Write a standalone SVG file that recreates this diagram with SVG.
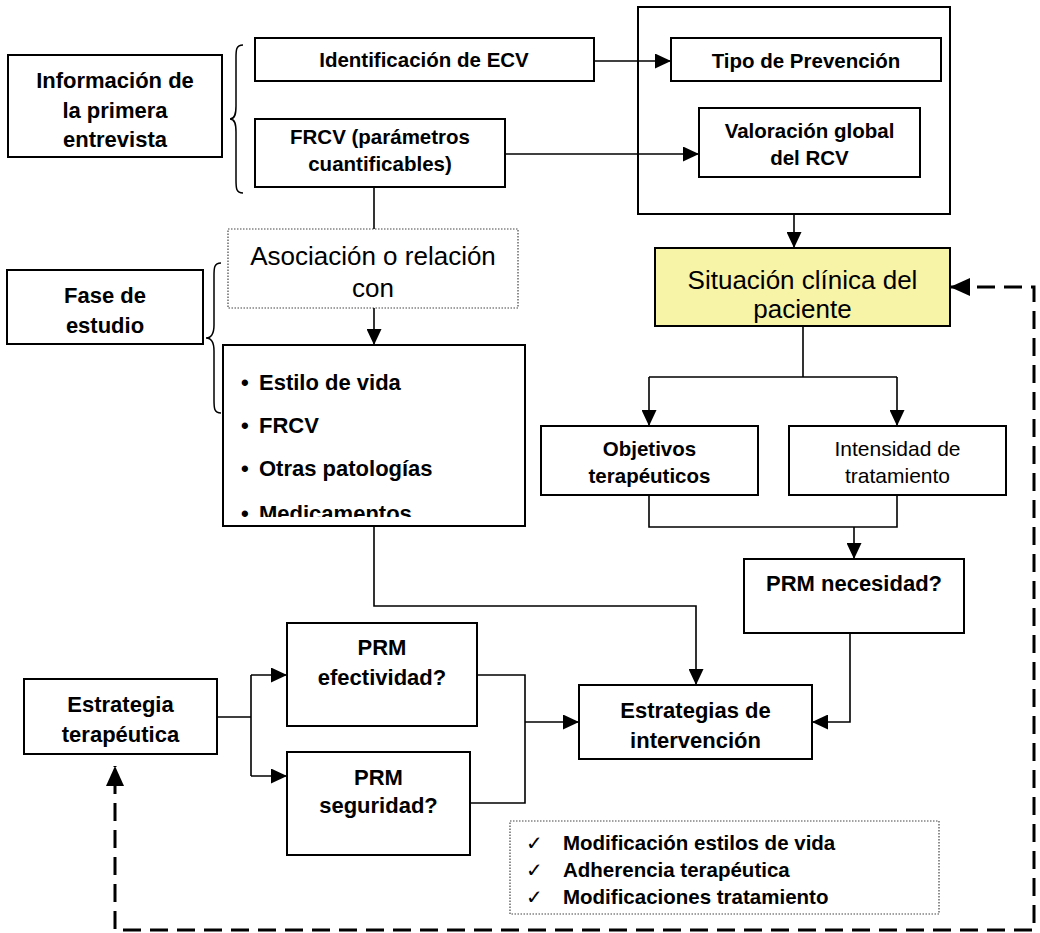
<svg xmlns="http://www.w3.org/2000/svg" width="1040" height="933" viewBox="0 0 1040 933">
  <style>
    .box { fill: #fff; stroke: #000; stroke-width: 2; }
    .frame { fill: none; stroke: #000; stroke-width: 2; }
    .dot { fill: #fff; stroke: #444; stroke-width: 1.2; stroke-dasharray: 1.5 1.5; }
    .sit { fill: #f7f3a7; stroke: #000; stroke-width: 2; }
    .t { font-family: "Liberation Sans", Arial, sans-serif; fill: #000; text-anchor: middle; }
    .b { font-weight: bold; }
    .s205 { font-size: 20.5px; }
    .s22 { font-size: 22px; }
    .s26 { font-size: 26px; }
    .l { text-anchor: start; }
    .chk { font-family: "DejaVu Sans", sans-serif; font-size: 20px; fill: #000; }
    .ln { fill: none; stroke: #000; stroke-width: 1.6; }
    .dash { fill: none; stroke: #000; stroke-width: 3; stroke-dasharray: 18 9; }
    .brace { fill: none; stroke: #000; stroke-width: 1.5; }
  </style>
  <defs>
    <marker id="ah" viewBox="0 0 16 15" refX="16" refY="7.5" markerWidth="16" markerHeight="15" markerUnits="userSpaceOnUse" orient="auto">
      <path d="M0,0 L16,7.5 L0,15 z" fill="#000"/>
    </marker>
    <marker id="ahd" viewBox="0 0 20 18" refX="20" refY="9" markerWidth="20" markerHeight="18" markerUnits="userSpaceOnUse" orient="auto-start-reverse">
      <path d="M0,0 L20,9 L0,18 z" fill="#000"/>
    </marker>
    <clipPath id="listClip">
      <rect x="224" y="346" width="300" height="171"/>
    </clipPath>
  </defs>

  <g id="info">
    <rect class="box" x="8" y="55" width="214" height="102"/>
    <text class="t b s22" x="115" y="88">Información de</text>
    <text class="t b s22" x="115" y="118">la primera</text>
    <text class="t b s22" x="115" y="147">entrevista</text>
  </g>

  <g id="identificacion">
    <rect class="box" x="255" y="38" width="339" height="43"/>
    <text class="t b s205" x="424" y="67">Identificación de ECV</text>
  </g>

  <g id="frcv">
    <rect class="box" x="255" y="119" width="250" height="68"/>
    <text class="t b s205" x="380" y="144">FRCV (parámetros</text>
    <text class="t b s205" x="380" y="171">cuantificables)</text>
  </g>

  <g id="riesgo">
    <rect class="frame" x="638" y="7" width="312" height="207"/>
  </g>

  <g id="prevencion">
    <rect class="box" x="671" y="38" width="270" height="43"/>
    <text class="t b s205" x="806" y="68">Tipo de Prevención</text>
  </g>

  <g id="valoracion">
    <rect class="box" x="699" y="108" width="221" height="69"/>
    <text class="t b s205" x="809.5" y="138">Valoración global</text>
    <text class="t b s205" x="809.5" y="165">del RCV</text>
  </g>

  <g id="situacion">
    <rect class="sit" x="655" y="248" width="295" height="78"/>
    <text class="t s26" x="802.5" y="289">Situación clínica del</text>
    <text class="t s26" x="802.5" y="318">paciente</text>
  </g>

  <g id="fase">
    <rect class="box" x="7" y="270" width="196" height="74"/>
    <text class="t b s22" x="105" y="303">Fase de</text>
    <text class="t b s22" x="105" y="333">estudio</text>
  </g>

  <g id="asociacion">
    <rect class="dot" x="228" y="229" width="290" height="79"/>
    <text class="t s26" x="373" y="265">Asociación o relación</text>
    <text class="t s26" x="373" y="297">con</text>
  </g>

  <g id="factores">
    <rect class="box" x="223" y="345" width="302" height="181"/>
    <g clip-path="url(#listClip)">
      <text class="t b s22 l" x="241" y="390">•</text>
      <text class="t b s22 l" x="259" y="390">Estilo de vida</text>
      <text class="t b s22 l" x="241" y="433">•</text>
      <text class="t b s22 l" x="259" y="433">FRCV</text>
      <text class="t b s22 l" x="241" y="476">•</text>
      <text class="t b s22 l" x="259" y="476">Otras patologías</text>
      <text class="t b s22 l" x="241" y="521">•</text>
      <text class="t b s22 l" x="259" y="521">Medicamentos</text>
    </g>
  </g>

  <g id="objetivos">
    <rect class="box" x="541" y="426" width="217" height="69"/>
    <text class="t b s205" x="649.5" y="456">Objetivos</text>
    <text class="t b s205" x="649.5" y="483">terapéuticos</text>
  </g>

  <g id="intensidad">
    <rect class="box" x="789" y="426" width="217" height="69"/>
    <text class="t" style="font-size:21px" x="897.5" y="456">Intensidad de</text>
    <text class="t" style="font-size:21px" x="897.5" y="483">tratamiento</text>
  </g>

  <g id="necesidad">
    <rect class="box" x="744" y="559" width="220" height="74"/>
    <text class="t b s22" x="854" y="591">PRM necesidad?</text>
  </g>

  <g id="intervencion">
    <rect class="box" x="579" y="685" width="233" height="74"/>
    <text class="t b s22" x="695.5" y="718">Estrategias de</text>
    <text class="t b s22" x="695.5" y="748">intervención</text>
  </g>

  <g id="estrategia">
    <rect class="box" x="24" y="679" width="193" height="75"/>
    <text class="t b s22" x="120.5" y="712">Estrategia</text>
    <text class="t b s22" x="120.5" y="742">terapéutica</text>
  </g>

  <g id="efectividad">
    <rect class="box" x="287" y="623" width="190" height="103"/>
    <text class="t b s22" x="382" y="655">PRM</text>
    <text class="t b s22" x="382" y="685">efectividad?</text>
  </g>

  <g id="seguridad">
    <rect class="box" x="287" y="752" width="183" height="103"/>
    <text class="t b s22" x="378.5" y="785">PRM</text>
    <text class="t b s22" x="378.5" y="813">seguridad?</text>
  </g>

  <g id="acciones">
    <rect class="dot" x="510" y="821" width="429" height="93"/>
    <text class="chk" x="526" y="850">✓</text>
    <text class="chk" x="526" y="877">✓</text>
    <text class="chk" x="526" y="904">✓</text>
    <text class="t b s205 l" x="563" y="850">Modificación estilos de vida</text>
    <text class="t b s205 l" x="563" y="877">Adherencia terapéutica</text>
    <text class="t b s205 l" x="563" y="904">Modificaciones tratamiento</text>
  </g>

  <!-- connectors, drawn over the frames so they stay visible -->
  <g id="connectors">
    <path class="ln" d="M594,61 H671" marker-end="url(#ah)"/>
    <path class="ln" d="M505,154 H699" marker-end="url(#ah)"/>
    <path class="ln" d="M374,187 V229"/>
    <path class="ln" d="M374,308 V345" marker-end="url(#ah)"/>
    <path class="ln" d="M794,214 V248" marker-end="url(#ah)"/>
    <path class="ln" d="M803,326 V377 M649,377 H897"/>
    <path class="ln" d="M649,377 V426" marker-end="url(#ah)"/>
    <path class="ln" d="M897,377 V426" marker-end="url(#ah)"/>
    <path class="ln" d="M649,495 V527 H897 V495"/>
    <path class="ln" d="M854,527 V559" marker-end="url(#ah)"/>
    <path class="ln" d="M850,633 V722 H812" marker-end="url(#ah)"/>
    <path class="ln" d="M374,526 V606 H696 V685" marker-end="url(#ah)"/>
    <path class="ln" d="M217,717 H251 M251,675 V776"/>
    <path class="ln" d="M251,675 H287" marker-end="url(#ah)"/>
    <path class="ln" d="M251,776 H287" marker-end="url(#ah)"/>
    <path class="ln" d="M477,675 H525 V803 H470"/>
    <path class="ln" d="M525,722 H579" marker-end="url(#ah)"/>
    <path class="dash" d="M950,287 H1034 V930 H115 V766" marker-start="url(#ahd)" marker-end="url(#ahd)"/>
    <!-- braces -->
    <path class="brace" d="M243,45 C236,45 236,50 236,58 V106 C236,114 235,119 230,119 C235,119 236,124 236,132 V180 C236,188 236,193 243,193"/>
    <path class="brace" d="M221,263 C214,263 214,268 214,276 V325 C214,333 212,338 206,338 C212,338 214,343 214,351 V400 C214,408 214,413 221,413"/>
  </g>
</svg>
